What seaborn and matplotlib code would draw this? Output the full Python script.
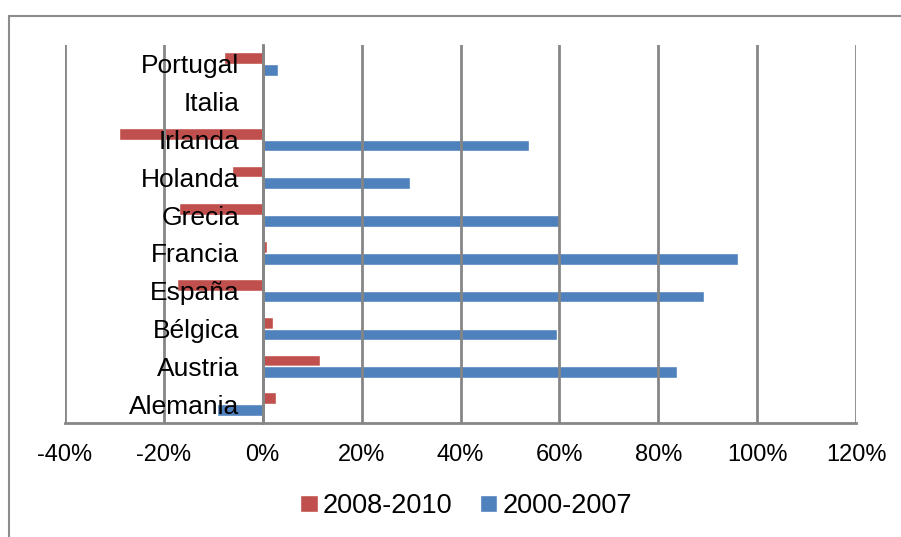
import numpy as np
import pandas as pd
import matplotlib
matplotlib.use("Agg")
import matplotlib.pyplot as plt
from matplotlib.patches import Patch, Rectangle
from matplotlib.ticker import FuncFormatter, FixedLocator
import seaborn as sns

# Data (top to bottom as shown)
paises = ["Portugal", "Italia", "Irlanda", "Holanda", "Grecia",
          "Francia", "España", "Bélgica", "Austria", "Alemania"]
periodo_2008_2010 = [-0.079, 0.0, -0.290, -0.063, -0.170,
                     0.009, -0.174, 0.021, 0.115, 0.026]
periodo_2000_2007 = [0.030, 0.0, 0.539, 0.297, 0.601,
                     0.962, 0.892, 0.596, 0.837, -0.092]
periodos = ["2008-2010", "2000-2007"]
colores = ["#C0504D", "#4F81BD"]

df = pd.DataFrame({
    "pais": paises * 2,
    "valor": periodo_2008_2010 + periodo_2000_2007,
    "periodo": [periodos[0]] * len(paises) + [periodos[1]] * len(paises),
})

sns.set_style("white")
plt.rcParams["font.family"] = ["Liberation Sans", "DejaVu Sans"]
plt.rcParams["text.color"] = "black"
plt.rcParams["xtick.color"] = "black"
plt.rcParams["ytick.color"] = "black"

fig = plt.figure(figsize=(9.01, 5.37), dpi=100)
ax = fig.add_axes([65 / 901, 1 - 423 / 537, (856 - 65) / 901, (423 - 45) / 537])

sns.barplot(data=df, x="valor", y="pais", hue="periodo", order=paises,
            hue_order=periodos, palette=colores, width=0.62, orient="h",
            errorbar=None, legend=False, saturation=1, ax=ax)

grid_col = "#868686"
ax.set_xlim(-0.4, 1.2)
ax.set_xticks(np.arange(-0.4, 1.21, 0.2))
ax.xaxis.set_major_formatter(FuncFormatter(lambda v, p: f"{v * 100:.0f}%"))
ax.xaxis.grid(True, color=grid_col, lw=2)
ax.set_axisbelow(False)

for s in ["top", "right"]:
    ax.spines[s].set_visible(False)
ax.spines["bottom"].set_color(grid_col)
ax.spines["bottom"].set_linewidth(2)
ax.spines["left"].set_position(("data", 0))
ax.spines["left"].set_color(grid_col)
ax.spines["left"].set_linewidth(2)

ax.tick_params(axis="x", length=6, width=2, color=grid_col, pad=9,
               labelsize=17, labelcolor="black", direction="out")
ax.tick_params(axis="y", which="major", length=0, pad=17, labelsize=19,
               labelcolor="black")
ax.yaxis.set_minor_locator(FixedLocator(np.arange(-0.5, len(paises), 1.0)))
ax.tick_params(axis="y", which="minor", length=5, width=2, color=grid_col,
               direction="out")
ax.set_xlabel("")
ax.set_ylabel("")

handles = [Patch(facecolor=c, label=l) for c, l in zip(colores, periodos)]
fig.legend(handles=handles, loc="center", bbox_to_anchor=(466 / 901, 1 - 506 / 537),
           ncol=2, frameon=False, fontsize=19.5, handlelength=0.66, handleheight=0.62,
           handletextpad=0.19, columnspacing=1.0)

fig.add_artist(Rectangle((8.5 / 901, -0.1), 1.2, 1.07, transform=fig.transFigure,
                         fill=False, edgecolor="#8c8c8c", lw=1.5))

fig.savefig("out.png", dpi=100)
